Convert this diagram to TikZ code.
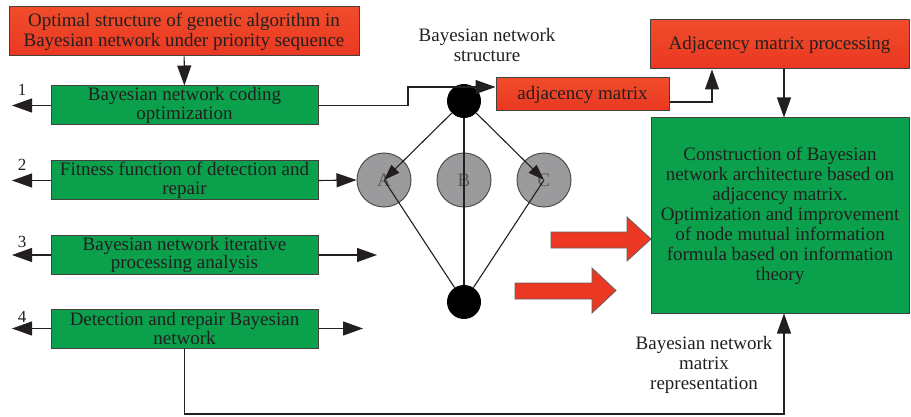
\documentclass[tikz,border=0pt]{standalone}
\usepackage{fontspec}
\setmainfont{Liberation Serif}
\usetikzlibrary{arrows.meta,calc}
\definecolor{boxred}{RGB}{234,56,34}
\definecolor{boxredtop}{RGB}{240,76,42}
\definecolor{boxgreen}{RGB}{11,160,76}
\definecolor{nodegray}{RGB}{155,155,157}
\definecolor{ink}{RGB}{35,31,32}
\begin{document}
\begin{tikzpicture}[x=1pt,y=-1pt,
  every node/.style={text=ink, font=\fontsize{19}{20}\selectfont},
  redbox/.style={draw=ink!85, line width=1pt, top color=boxredtop, bottom color=boxred,
    align=center, inner sep=0pt},
  greenbox/.style={draw=ink!85, line width=1pt, fill=boxgreen, align=center, inner sep=0pt,
    minimum width=267pt, minimum height=39pt, font=\fontsize{19}{18.5}\selectfont},
  blacknode/.style={circle, fill=black, minimum size=34pt, inner sep=0pt},
  graynode/.style={circle, draw=ink!80, line width=1pt, fill=nodegray, minimum size=54pt,
    inner sep=0pt, text=ink!75},
  freetext/.style={align=center, inner sep=0pt},
  conn/.style={draw=ink, line width=1.1pt},
  tip/.style={conn, -{Triangle[length=20pt,width=14pt]}},
  smalltip/.style={conn, -{Triangle[length=16pt,width=11pt]}},
  bigarrow/.style={fill=boxred, draw=ink!70, line width=0.8pt},
  numlabel/.style={font=\fontsize{17}{17}\selectfont}
]
\useasboundingbox (0,0) rectangle (911,417);

% left column
\node[redbox, minimum width=350pt, minimum height=49pt] (opt) at (184,31.5)
  {Optimal structure of genetic algorithm in\\Bayesian network under priority sequence};
\node[greenbox] (b1) at (184.5,105.5) {Bayesian network coding\\optimization};
\node[greenbox] (b2) at (184.5,180.5) {Fitness function of detection and\\repair};
\node[greenbox] (b3) at (184.5,255) {Bayesian network iterative\\processing analysis};
\node[greenbox] (b4) at (184.5,328.5) {Detection and repair Bayesian\\network};

\node[numlabel] (n1) at (22,90) {1};
\node[numlabel] (n2) at (22,165) {2};
\node[numlabel] (n3) at (22,242) {3};
\node[numlabel] (n4) at (22,317) {4};

\coordinate (l1) at (12,105.5);
\coordinate (l2) at (12,180.5);
\coordinate (l3) at (12,255);
\coordinate (l4) at (12,328.5);
\coordinate (r3) at (377,255);
\coordinate (r4) at (363,328.5);

% network structure
\node[freetext] (bnslabel) at (487,45) {Bayesian network\\structure};
\node[blacknode] (top) at (464,101) {};
\node[graynode] (A) at (384,180) {A};
\node[graynode] (B) at (464,180) {B};
\node[graynode] (C) at (544,180) {C};
\node[blacknode] (bot) at (464,302) {};

% right column
\node[redbox, minimum width=173pt, minimum height=33pt] (adj) at (582.5,94.5) {adjacency matrix};
\node[redbox, minimum width=259pt, minimum height=49pt] (adjp) at (779.5,44.5) {Adjacency matrix processing};
\node[draw=ink!85, line width=1pt, fill=boxgreen, minimum width=258pt, minimum height=195pt,
  inner sep=0pt, align=center] (big) at (780,215.5)
  {Construction of Bayesian\\network architecture based on\\adjacency matrix.\\Optimization and improvement\\of node mutual information\\formula based on information\\theory};
\node[freetext] (matlabel) at (704,365) {Bayesian network\\matrix\\representation};

\coordinate (vx) at (784,414);
\coordinate (ax) at (712,0);

% connectors
\draw[tip] (opt) -- (b1);
\draw[tip] (b1.west) -- (l1);
\draw[tip] (b2.west) -- (l2);
\draw[tip] (b3.west) -- (l3);
\draw[tip] (b4.west) -- (l4);
\draw[tip] (b2.east) -- (A.west);
\draw[tip] (b3.east) -- (r3);
\draw[tip] (b4.east) -- (r4);
\draw[tip] (b1.east) -- (408,105.5) |- ($(adj.west)+(0,-7.5)$);
\draw[tip] ($(adj.east)+(0,7.5)$) -| (ax |- adjp.south);
\draw[tip] (adjp.south -| vx) -- (vx |- big.north);
\draw[tip] (b4.south) |- (vx) -- (vx |- big.south);

% edges of the network
\draw[smalltip] (top) -- (A.center);
\draw[smalltip] (top) -- (C.center);
\draw[conn] (top) -- (bot);
\draw[conn] (A.center) -- (bot);
\draw[conn] (C.center) -- (bot);

% block arrows into the construction box
\draw[bigarrow] (551,232) -- (627,232) -- (627,217) -- (651,239) -- (627,261) -- (627,248) -- (551,248) -- cycle;
\draw[bigarrow] (515,283) -- (592,283) -- (592,268) -- (616,290.5) -- (592,313) -- (592,299) -- (515,299) -- cycle;
\end{tikzpicture}
\end{document}
